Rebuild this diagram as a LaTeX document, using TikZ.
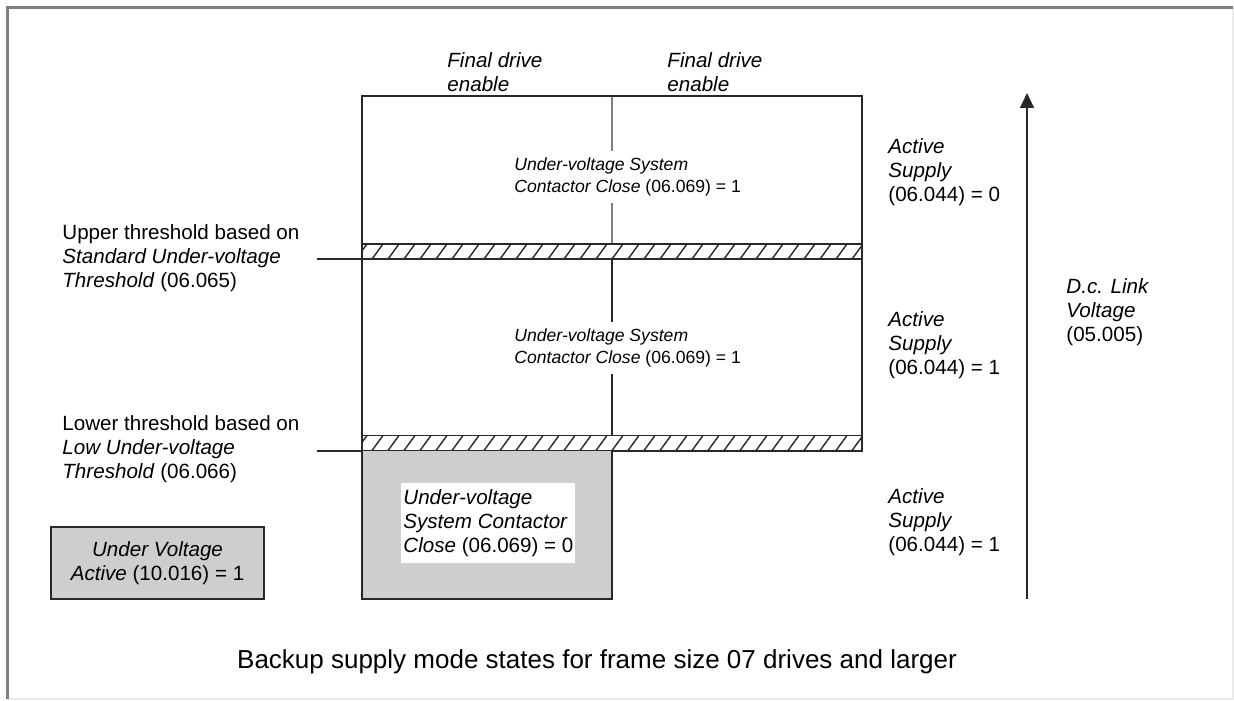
\documentclass[tikz,border=0pt]{standalone}
\usepackage{fontspec}
\setmainfont{Liberation Sans}
\usetikzlibrary{arrows.meta, positioning, calc}
\definecolor{framegray}{RGB}{128,128,128}
\definecolor{stategray}{RGB}{206,206,206}
\definecolor{ink}{RGB}{40,40,40}
\newcommand{\lblfont}{\fontsize{10.3}{12}\selectfont}
\newcommand{\uvfont}{\fontsize{8.8}{11}\selectfont}

\begin{document}
\begin{tikzpicture}[x=0.5pt, y=-0.5pt,
  txt/.style={font=\lblfont, align=left, inner sep=0pt, anchor=west},
  cover/.style={txt, fill=white, inner xsep=1pt, inner ysep=4pt},
  outline/.style={draw=ink, line width=1pt},
  hatchband/.style={draw=ink, line width=0.8pt, minimum width=250pt, minimum height=7.5pt, inner sep=0pt,
    path picture={\foreach \i in {0,...,33}
      \draw[ink, line width=0.7pt] ($(path picture bounding box.south west)+(\i*16-6,0)$) -- ++(11,-15);}},
  arr/.style={-{Triangle[length=7.5pt, width=7pt]}, line width=0.8pt, ink}
]
\useasboundingbox (0,0) rectangle (1234,700);
% frame
\draw[black!8, line width=0.6pt] (7,699) -- (1233,699) -- (1233,8);
\draw[framegray, line width=1.5pt] (7,699) -- (7,8) -- (1233,8);

% states block
\fill[stategray] (362,451) rectangle (612,599);
\draw[framegray, line width=1pt] (612,96) -- (612,244);
\draw[ink, line width=1pt] (612,259) -- (612,435);
\draw[outline] (362,96) -- (862,96) -- (862,451) -- (612,451) -- (612,599) -- (362,599) -- cycle;
\node[hatchband] (bandhi) at (612,251.5) {};
\node[hatchband] (bandlo) at (612,443) {};

% threshold leads
\coordinate (uplead) at (317,259);
\coordinate (lolead) at (317,451);
\draw[ink, line width=0.8pt] (uplead) -- (uplead -| bandhi.west);
\draw[ink, line width=0.8pt] (lolead) -- (lolead -| bandlo.west);

% labels
\node[txt] (fdleft) at (447,72) {\textit{Final drive}\\\textit{enable}};
\node[txt] (fdright) at (667,72) {\textit{Final drive}\\\textit{enable}};
\node[cover, font=\uvfont, inner ysep=3.5pt] (uvhi) at (512,177) {\textit{Under-voltage System}\\\textit{Contactor Close} (06.069) = 1};
\node[cover, font=\uvfont, inner ysep=3.5pt] (uvmid) at (512,348) {\textit{Under-voltage System}\\\textit{Contactor Close} (06.069) = 1};
\node[cover, inner ysep=3pt] (uvlo) at (401,523) {\textit{Under-voltage}\\\textit{System Contactor}\\\textit{Close} (06.069) = 0};

\node[txt] (suphi) at (888,172) {\textit{Active}\\\textit{Supply}\\(06.044) = 0};
\node[txt] (supmid) at (888,345) {\textit{Active}\\\textit{Supply}\\(06.044) = 1};
\node[txt] (suplo) at (888,522) {\textit{Active}\\\textit{Supply}\\(06.044) = 1};

\node[txt] (upthr) at (62,258) {Upper threshold based on\\\textit{Standard Under-voltage}\\\textit{Threshold} (06.065)};
\node[txt] (lothr) at (62,449) {Lower threshold based on\\\textit{Low Under-voltage}\\\textit{Threshold} (06.066)};

\node[draw=ink, line width=1pt, fill=stategray, minimum width=106.5pt, minimum height=36pt,
  font=\lblfont, align=center] (uvact) at (157.5,563) {\textit{Under Voltage}\\\textit{Active} (10.016) = 1};

% d.c. link axis
\coordinate (vbase) at (1027,599);
\coordinate (vtip) at (1027,93);
\draw[arr] (vbase) -- (vtip);
\node[txt] (dclink) at (1066,312) {\textit{D.c. Link}\\\textit{Voltage}\\(05.005)};

\node[font=\fontsize{13}{15}\selectfont, inner sep=0pt] (caption) at (597,662)
  {Backup supply mode states for frame size 07 drives and larger};
\end{tikzpicture}
\end{document}
